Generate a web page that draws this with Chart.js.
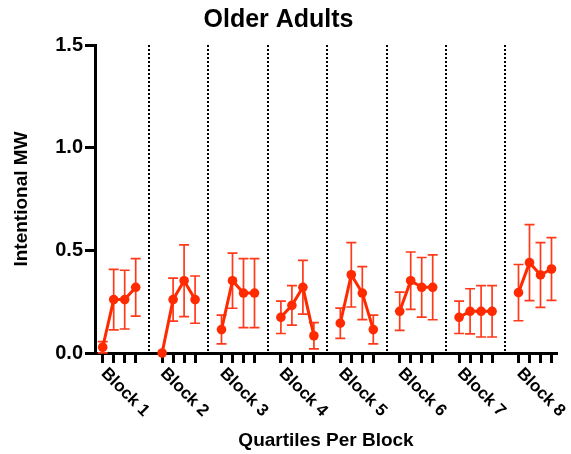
<!DOCTYPE html>
<html>
<head>
<meta charset="utf-8">
<script src="https://cdn.jsdelivr.net/npm/chart.js@4.4.1/dist/chart.umd.min.js"></script>
<style>
  html, body { margin: 0; padding: 0; background: #fff; }
  #wrap { width: 571px; height: 454px; }
</style>
</head>
<body>
<div id="wrap"><canvas id="chart" width="571" height="454"></canvas></div>
<script>
// Data: 8 blocks x 4 quartiles
const blocks = ["Block 1", "Block 2", "Block 3", "Block 4", "Block 5", "Block 6", "Block 7", "Block 8"];
const quartileMeans = [
  0.028, 0.26, 0.26, 0.32,
  0.0, 0.26, 0.352, 0.26,
  0.114, 0.352, 0.292, 0.292,
  0.174, 0.232, 0.32, 0.084,
  0.145, 0.381, 0.292, 0.114,
  0.203, 0.352, 0.32, 0.32,
  0.174, 0.203, 0.203, 0.203,
  0.294, 0.44, 0.38, 0.409
];
const quartileErrors = [
  0.027, 0.147, 0.143, 0.14,
  0.0, 0.105, 0.175, 0.115,
  0.07, 0.134, 0.168, 0.168,
  0.079, 0.096, 0.131, 0.064,
  0.074, 0.157, 0.129, 0.07,
  0.093, 0.14, 0.145, 0.158,
  0.079, 0.11, 0.125, 0.125,
  0.137, 0.185, 0.158, 0.153
];
const yTicks = [0, 0.5, 1.0, 1.5];

const BLOCK_STEP = 5.4; // x units between blocks (one quartile = 1 unit)
const RED = "#ff2a00";
const FONT = "'Liberation Sans', Arial, Helvetica, sans-serif";

function xPos(b, q) { return b * BLOCK_STEP + q; }

const quartileX = [];
blocks.forEach((_, b) => { for (let q = 0; q < 4; q++) quartileX.push(xPos(b, q)); });
// dotted separators half way between blocks
const separatorX = blocks.slice(1).map((_, b) => xPos(b, 3) + (BLOCK_STEP - 3) / 2);

const datasets = blocks.map((name, b) => ({
  label: name,
  data: [0, 1, 2, 3].map(q => ({
    x: xPos(b, q),
    y: quartileMeans[b * 4 + q],
    err: quartileErrors[b * 4 + q]
  })),
  borderColor: RED,
  backgroundColor: RED,
  borderWidth: 3,
  pointRadius: 4.8,
  pointHoverRadius: 4.8,
  pointBorderWidth: 0,
  tension: 0,
  clip: false
}));

// dotted lines between blocks
const separators = {
  id: "separators",
  beforeDatasetsDraw(chart) {
    const { ctx, chartArea, scales } = chart;
    ctx.save();
    ctx.strokeStyle = "#000";
    ctx.lineWidth = 2;
    ctx.setLineDash([2, 2]);
    separatorX.forEach(v => {
      const px = Math.round(scales.x.getPixelForValue(v));
      ctx.beginPath();
      ctx.moveTo(px, chartArea.top);
      ctx.lineTo(px, chartArea.bottom);
      ctx.stroke();
    });
    ctx.restore();
  }
};

// mean +/- error bars with caps
const errorBars = {
  id: "errorBars",
  beforeDatasetsDraw(chart) {
    const { ctx, scales } = chart;
    ctx.save();
    ctx.strokeStyle = "#ff3a1a";
    ctx.lineWidth = 1.7;
    chart.data.datasets.forEach(ds => {
      ds.data.forEach(p => {
        if (!p.err) return;
        const px = scales.x.getPixelForValue(p.x);
        const top = scales.y.getPixelForValue(p.y + p.err);
        const bot = scales.y.getPixelForValue(Math.max(0, p.y - p.err));
        ctx.beginPath();
        ctx.moveTo(px, top); ctx.lineTo(px, bot);
        ctx.moveTo(px - 5, top); ctx.lineTo(px + 5, top);
        if (p.y - p.err > 0) { ctx.moveTo(px - 5, bot); ctx.lineTo(px + 5, bot); }
        ctx.stroke();
      });
    });
    ctx.restore();
  }
};

// slanted block names under the first quartile tick of each block
const blockLabels = {
  id: "blockLabels",
  afterDraw(chart) {
    const { ctx, scales } = chart;
    ctx.save();
    ctx.fillStyle = "#000";
    ctx.font = "bold 17px " + FONT;
    ctx.textAlign = "left";
    ctx.textBaseline = "top";
    blocks.forEach((name, b) => {
      const px = scales.x.getPixelForValue(xPos(b, 0));
      ctx.save();
      ctx.translate(px + 7, scales.x.top + 12);
      ctx.rotate(Math.PI / 4);
      ctx.fillText(name, 0, 0);
      ctx.restore();
    });
    ctx.restore();
  }
};

new Chart(document.getElementById("chart"), {
  type: "line",
  data: { datasets },
  options: {
    responsive: false,
    animation: false,
    layout: { padding: { left: 0, right: 14, top: 0, bottom: 0 } },
    plugins: {
      legend: { display: false },
      tooltip: { enabled: false },
      title: {
        display: true,
        text: "Older Adults",
        color: "#000",
        font: { family: FONT, size: 25, weight: "bold" },
        padding: { top: 5, bottom: 10 }
      }
    },
    scales: {
      x: {
        type: "linear",
        min: -0.7,
        max: 41.3,
        afterBuildTicks: s => { s.ticks = quartileX.map(v => ({ value: v })); },
        afterFit: s => { s.height = 101; },
        ticks: { display: false },
        grid: { drawOnChartArea: false, drawTicks: true, tickLength: 10, tickWidth: 3, color: "#000" },
        border: { color: "#000", width: 3 },
        title: {
          display: true,
          text: "Quartiles Per Block",
          color: "#000",
          font: { family: FONT, size: 19, weight: "bold" },
          padding: { top: 0, bottom: 2 }
        }
      },
      y: {
        min: 0,
        max: 1.5,
        afterBuildTicks: s => { s.ticks = yTicks.map(v => ({ value: v })); },
        afterFit: s => { s.width = 95; },
        ticks: {
          color: "#000",
          padding: 2,
          font: { family: FONT, size: 20, weight: "bold" },
          callback: v => v.toFixed(1)
        },
        grid: { drawOnChartArea: false, drawTicks: true, tickLength: 10, tickWidth: 3, color: "#000" },
        border: { color: "#000", width: 3 },
        title: {
          display: true,
          text: "Intentional MW",
          color: "#000",
          font: { family: FONT, size: 19, weight: "bold" },
          padding: { top: 10, bottom: 0 }
        }
      }
    }
  },
  plugins: [separators, errorBars, blockLabels]
});
</script>
</body>
</html>
